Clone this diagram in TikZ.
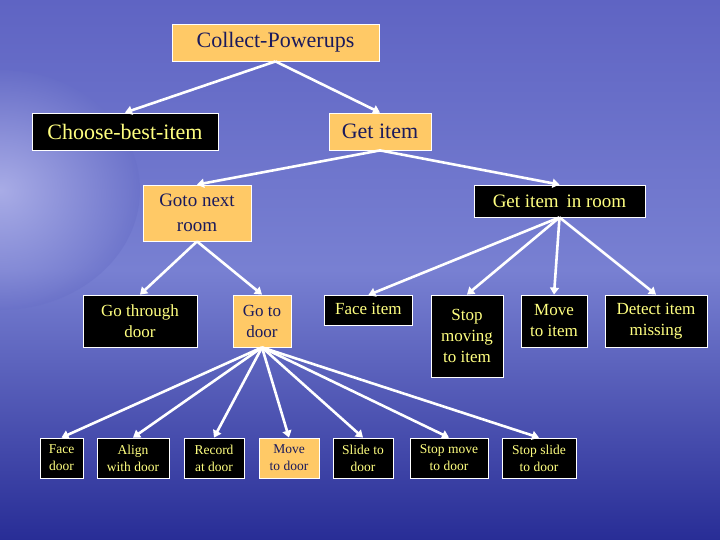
\documentclass[tikz,border=0pt]{standalone}
\usepackage{fontspec}
\setmainfont{Liberation Serif}
\usetikzlibrary{arrows.meta}
\definecolor{orng}{HTML}{FFC966}
\definecolor{navy}{HTML}{1A1A5C}
\definecolor{yel}{HTML}{FFFF80}
\begin{document}
\begin{tikzpicture}[x=1pt,y=-1pt,
 box/.style={draw=white,line width=0.8pt,inner sep=0pt,align=center,font=\fontsize{17}{21}\selectfont},
 ob/.style={box,fill=orng,text=navy},
 bb/.style={box,fill=black,text=yel},
 big/.style={font=\fontsize{22}{25}\selectfont},
 sm/.style={font=\fontsize{13.5}{17}\selectfont},
 arr/.style={draw=white,line width=2.6pt,-{Triangle[length=7pt,width=9pt]}}]
\useasboundingbox (0,0) rectangle (720,540);
\clip (0,0) rectangle (720,540);
\shade[top color={rgb,255:red,95;green,100;blue,195},bottom color={rgb,255:red,40;green,45;blue,150},middle color={rgb,255:red,120;green,128;blue,210}] (0,0) rectangle (720,540);
\shade[inner color=white!70!blue!40,outer color={rgb,255:red,105;green,112;blue,200},opacity=0.5] (0,190) ellipse (140 and 120);
\def\bx#1#2#3#4#5#6#7{\node[#2,minimum width={#5-#3},minimum height={#6-#4}] (#1) at ({(#3+#5)/2},{(#4+#6)/2}) {#7};}
\bx{cp}{ob,big}{172}{24}{379}{61}{Collect-Powerups}
\bx{cb}{bb,big}{32}{113}{218}{150}{Choose-best-item}
\bx{gi}{ob,big}{329}{113}{431}{150}{Get item}
\bx{gn}{ob,font=\fontsize{19}{25}\selectfont}{143}{185}{251}{241}{Goto next\\room}
\bx{gr}{bb,font=\fontsize{19}{22}\selectfont}{474}{185}{645}{217}{Get item\, in room}
\bx{gt}{bb}{83}{295}{197}{347}{Go through\\door}
\bx{gd}{ob}{233}{295}{291}{347}{Go to\\door}
\node[bb,minimum width=88,minimum height=30,anchor=north west] (fi) at (324,295) {\raisebox{4pt}{Face item}};
\bx{sm}{bb}{431}{295}{503}{377}{Stop\\moving\\to item}
\bx{mi}{bb}{521}{295}{587}{347}{Move\\to item}
\bx{di}{bb}{605}{295}{707}{347}{Detect item\\missing}
\bx{fd}{bb,sm}{40}{438}{83}{478}{Face\\door}
\bx{aw}{bb,sm}{97}{438}{169}{478}{Align\\with door}
\bx{ra}{bb,sm}{184}{438}{244}{478}{Record\\at door}
\bx{md}{ob,sm}{259}{438}{319}{478}{Move\\to door}
\bx{sd}{bb,sm}{333}{438}{393}{478}{Slide to\\door}
\bx{sn}{bb,sm}{410}{438}{488}{478}{Stop move\\to door}
\bx{ss}{bb,sm}{502}{438}{576}{478}{Stop slide\\to door}
\foreach \c in {cb,gi} \draw[arr] (cp.south) -- (\c.north);
\foreach \c in {gn,gr} \draw[arr] (gi.south) -- (\c.north);
\foreach \c in {gt,gd} \draw[arr] (gn.south) -- (\c.north);
\foreach \c in {fi,sm,mi,di} \draw[arr] (gr.south) -- (\c.north);
\foreach \c in {fd,aw,ra,md,sd,sn,ss} \draw[arr] (gd.south) -- (\c.north);
\end{tikzpicture}
\end{document}
